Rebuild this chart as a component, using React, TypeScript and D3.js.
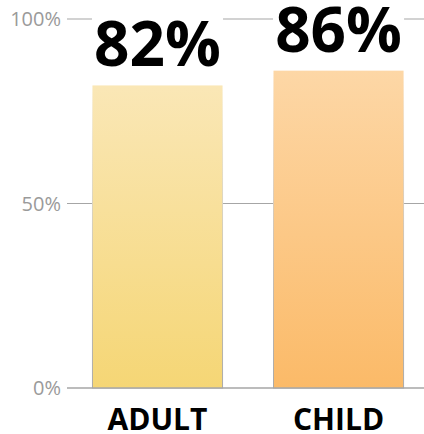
import React from "react";
import * as d3 from "d3";

const categories = ["ADULT", "CHILD"];
const values = [82, 86];
const valueLabels = ["82%", "86%"];
const yTicks = [0, 50, 100];
const yTickLabels = ["0%", "50%", "100%"];
const topColors = ["#FAE7B6", "#FDD7A6"];
const bottomColors = ["#F5D675", "#FBBA68"];

const W = 424;
const H = 434;

export default function App() {
  const x = d3
    .scaleBand<string>()
    .domain(categories)
    .range([67, W])
    .paddingInner(0.276)
    .paddingOuter(0.124)
    .align(0.556);
  const y = d3.scaleLinear().domain([0, 100]).range([388, 19]);
  const y0 = y(0);

  return (
    <svg
      width={W}
      height={H}
      style={{ position: "absolute", left: 0, top: 0 }}
      fontFamily="'Open Sans', sans-serif"
    >
      <defs>
        {categories.map((c, i) => (
          <linearGradient key={c} id={`g${i}`} x1="0" y1="0" x2="0" y2="1">
            <stop offset="0%" stopColor={topColors[i]} />
            <stop offset="100%" stopColor={bottomColors[i]} />
          </linearGradient>
        ))}
        <linearGradient id="sg" x1="0" y1="0" x2="0" y2="1">
          <stop offset="0%" stopColor="#aaaaaa" stopOpacity={0} />
          <stop offset="100%" stopColor="#aaaaaa" stopOpacity={1} />
        </linearGradient>
      </defs>
      {/* gridlines */}
      {yTicks.map((t, i) => (
        <g key={t}>
          <line x1={67} x2={W} y1={y(t)} y2={y(t)} stroke="#a6a6a6" strokeWidth={1.2} />
          <text
            x={61}
            y={y(t) + 7}
            textAnchor="end"
            fontSize={20}
            fill="#9a9a9a"
          >
            {yTickLabels[i]}
          </text>
        </g>
      ))}
      {/* column masks */}
      {categories.map((c) => (
        <rect key={c} x={x(c)!} y={0} width={x.bandwidth()} height={y0 - 1} fill="#fff" />
      ))}
      {/* bars */}
      {categories.map((c, i) => (
        <rect
          key={c}
          x={x(c)! + 0.5}
          y={y(values[i])}
          width={x.bandwidth() - 1}
          height={y0 - y(values[i])}
          fill={`url(#g${i})`}
          stroke="url(#sg)"
          strokeWidth={1}
        />
      ))}
      <line x1={67} x2={W} y1={y0} y2={y0} stroke="#a6a6a6" strokeWidth={1.2} />
      {/* value labels */}
      {categories.map((c, i) => (
        <text
          key={c}
          x={x(c)! + x.bandwidth() / 2}
          y={y(values[i]) - 19}
          textAnchor="middle"
          fontSize={62}
          fontWeight={700}
          fill="#000"
        >
          {valueLabels[i]}
        </text>
      ))}
      {/* category labels */}
      {categories.map((c) => (
        <text
          key={c}
          x={x(c)! + x.bandwidth() / 2}
          y={430}
          textAnchor="middle"
          fontSize={30}
          fontWeight={700}
          fill="#000"
        >
          {c}
        </text>
      ))}
    </svg>
  );
}
